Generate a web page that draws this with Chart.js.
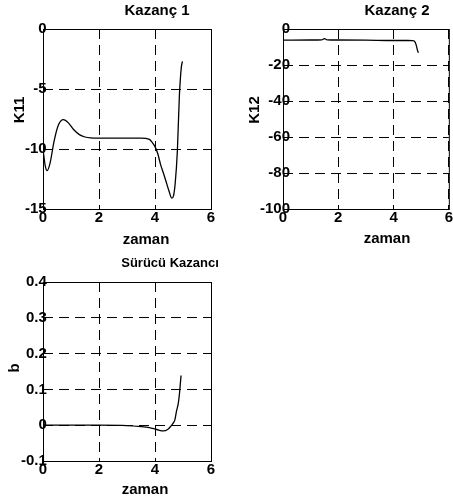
<!DOCTYPE html>
<html>
<head>
<meta charset="utf-8">
<script src="https://cdn.jsdelivr.net/npm/chart.js@4/dist/chart.umd.min.js"></script>
<style>
  body { margin: 0; background: #fff; width: 453px; height: 504px; position: relative; overflow: hidden; }
  canvas { position: absolute; }
</style>
</head>
<body>
<canvas id="c1" width="230" height="250" style="left:0;top:0"></canvas>
<canvas id="c2" width="223" height="250" style="left:230px;top:0"></canvas>
<canvas id="c3" width="230" height="254" style="left:0;top:250px"></canvas>
<script>
// Kazanç 1 (K11)
const t1  = [0, 0.08, 0.15, 0.25, 0.4, 0.55, 0.73, 0.9, 1.1, 1.3, 1.5, 1.7, 2.0, 2.5, 3.0, 3.5, 3.8, 3.9, 4.0, 4.1, 4.2, 4.3, 4.4, 4.5, 4.6, 4.66, 4.72, 4.8, 4.87, 4.94, 4.98];
const k11 = [-10.0, -11.4, -11.8, -11.2, -9.3, -8.0, -7.55, -7.8, -8.4, -8.8, -9.0, -9.08, -9.1, -9.1, -9.1, -9.1, -9.2, -9.45, -9.8, -10.4, -11.3, -12.0, -12.75, -13.5, -14.1, -13.9, -12.9, -10.1, -5.6, -3.2, -2.7];

// Kazanç 2 (K12)
const t2  = [0, 1.0, 1.4, 1.5, 1.6, 2.0, 3.0, 4.0, 4.5, 4.7, 4.78, 4.83, 4.87, 4.9];
const k12 = [-6.2, -6.1, -6.0, -5.3, -6.0, -6.1, -6.2, -6.4, -6.4, -6.5, -7.3, -9.5, -12.0, -13.2];

// Sürücü Kazancı (b)
const t3 = [0, 1, 2, 3.0, 3.5, 3.8, 4.06, 4.3, 4.45, 4.54, 4.63, 4.71, 4.77, 4.83, 4.87, 4.93];
const b  = [0, 0, 0, -0.001, -0.004, -0.007, -0.012, -0.016, -0.012, -0.005, 0.004, 0.015, 0.04, 0.06, 0.085, 0.139];

const xTicks = [0, 2, 4, 6];

const FONT = "'Liberation Sans', Arial, sans-serif";
Chart.defaults.font = { family: FONT, size: 15, weight: 'bold' };
Chart.defaults.color = '#000';

// box round the axes + titles / axis labels
const frameAndText = {
  id: 'frameAndText',
  afterDraw(chart, args, opts) {
    const { ctx, chartArea: a } = chart;
    ctx.save();
    ctx.strokeStyle = '#000';
    ctx.lineWidth = 1;
    ctx.setLineDash([]);
    ctx.strokeRect(a.left + 0.5, a.top + 0.5, a.right - a.left, a.bottom - a.top);
    ctx.fillStyle = '#000';
    ctx.textAlign = 'center';
    ctx.textBaseline = 'middle';
    for (const t of opts.items) {
      ctx.save();
      ctx.font = 'bold ' + (t.size || 15) + 'px ' + FONT;
      ctx.translate(t.x, t.y);
      if (t.rot) ctx.rotate(-Math.PI / 2);
      ctx.fillText(t.text, 0, 0);
      ctx.restore();
    }
    ctx.restore();
  }
};

function points(xs, ys) {
  return xs.map((x, i) => ({ x: x, y: ys[i] }));
}

function makeChart(id, xs, ys, cfg) {
  return new Chart(document.getElementById(id), {
    type: 'line',
    data: {
      datasets: [{
        data: points(xs, ys),
        borderColor: '#000',
        borderWidth: 1.3,
        pointRadius: 0,
        cubicInterpolationMode: 'monotone',
        fill: false
      }]
    },
    options: {
      responsive: false,
      animation: false,
      events: [],
      layout: { padding: { left: 0, top: cfg.top, right: cfg.right, bottom: 0 } },
      plugins: {
        legend: { display: false },
        tooltip: { enabled: false },
        frameAndText: { items: cfg.items }
      },
      scales: {
        x: {
          type: 'linear',
          min: 0, max: 6,
          afterBuildTicks: s => { s.ticks = xTicks.map(v => ({ value: v })); },
          afterFit: s => { s.height = cfg.bottomH; },
          ticks: { padding: 0, maxRotation: 0, autoSkip: false },
          grid: { color: '#000', lineWidth: 1, drawTicks: false },
          border: { display: false, dash: [10, 6] }
        },
        y: {
          min: cfg.yMin, max: cfg.yMax,
          afterBuildTicks: s => { s.ticks = cfg.yTicks.map(v => ({ value: v })); },
          afterFit: s => { s.width = cfg.leftW; },
          // mirrored + far-aligned so labels may run over the axis line like the original
          ticks: {
            mirror: true,
            crossAlign: 'far',
            padding: cfg.tickPad,
            autoSkip: false,
            callback: v => String(Number(v.toFixed(2)))
          },
          grid: { color: '#000', lineWidth: 1, drawTicks: false },
          border: { display: false, dash: [10, 6] }
        }
      }
    },
    plugins: [frameAndText]
  });
}

makeChart('c1', t1, k11, {
  yMin: -15, yMax: 0, yTicks: [-15, -10, -5, 0],
  top: 29, right: 19, leftW: 43, bottomH: 41, tickPad: -18,
  items: [
    { text: 'Kazanç 1', x: 157, y: 11 },
    { text: 'zaman', x: 146, y: 240 },
    { text: 'K11', x: 20, y: 110, rot: true }
  ]
});

makeChart('c2', t2, k12, {
  yMin: -100, yMax: 0, yTicks: [-100, -80, -60, -40, -20, 0],
  top: 29, right: 2, leftW: 53, bottomH: 41, tickPad: -23,
  items: [
    { text: 'Kazanç 2', x: 167, y: 11 },
    { text: 'zaman', x: 157, y: 239 },
    { text: 'K12', x: 25, y: 110, rot: true }
  ]
});

makeChart('c3', t3, b, {
  yMin: -0.1, yMax: 0.4, yTicks: [-0.1, 0, 0.1, 0.2, 0.3, 0.4],
  top: 32, right: 19, leftW: 43, bottomH: 43, tickPad: -22,
  items: [
    { text: 'Sürücü Kazancı', x: 170, y: 13, size: 13 },
    { text: 'zaman', x: 145, y: 240 },
    { text: 'b', x: 15, y: 118, rot: true }
  ]
});
</script>
</body>
</html>
